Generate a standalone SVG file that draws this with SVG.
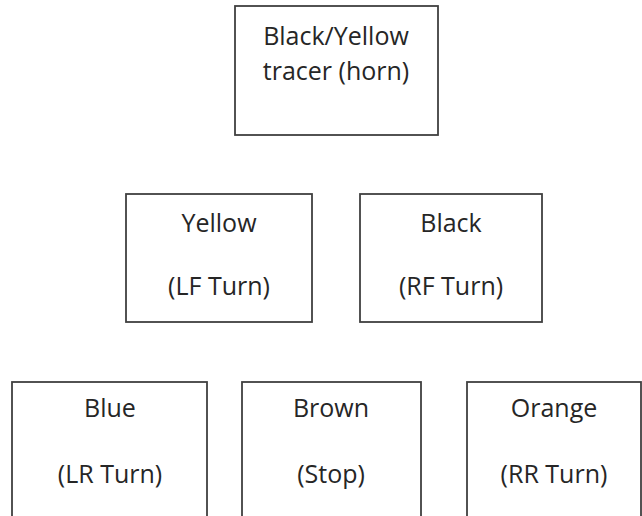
<svg xmlns="http://www.w3.org/2000/svg" width="642" height="516" viewBox="0 0 642 516">
<style>
.box{fill:#ffffff;stroke:#404040;stroke-width:1.8}
.t{font-family:"Open Sans","Noto Sans","Liberation Sans",sans-serif;font-size:25px;fill:#262626;text-anchor:middle}
</style>
<rect width="642" height="516" fill="#ffffff"/>
<g id="connectors"></g>
<g id="n-horn"><rect class="box" x="235" y="6" width="203" height="129"/><text class="t" x="336" y="45">Black/Yellow</text><text class="t" x="336" y="80">tracer (horn)</text></g>
<g id="n-yellow"><rect class="box" x="126" y="194" width="186" height="128"/><text class="t" x="219" y="232">Yellow</text><text class="t" x="219" y="295">(LF Turn)</text></g>
<g id="n-black"><rect class="box" x="360" y="194" width="182" height="128"/><text class="t" x="451" y="232">Black</text><text class="t" x="451" y="295">(RF Turn)</text></g>
<g id="n-blue"><rect class="box" x="12" y="382" width="195" height="136"/><text class="t" x="110" y="417">Blue</text><text class="t" x="110" y="483">(LR Turn)</text></g>
<g id="n-brown"><rect class="box" x="242" y="382" width="179" height="136"/><text class="t" x="331" y="417">Brown</text><text class="t" x="331" y="483">(Stop)</text></g>
<g id="n-orange"><rect class="box" x="467" y="382" width="174" height="136"/><text class="t" x="554" y="417">Orange</text><text class="t" x="554" y="483">(RR Turn)</text></g>
</svg>
